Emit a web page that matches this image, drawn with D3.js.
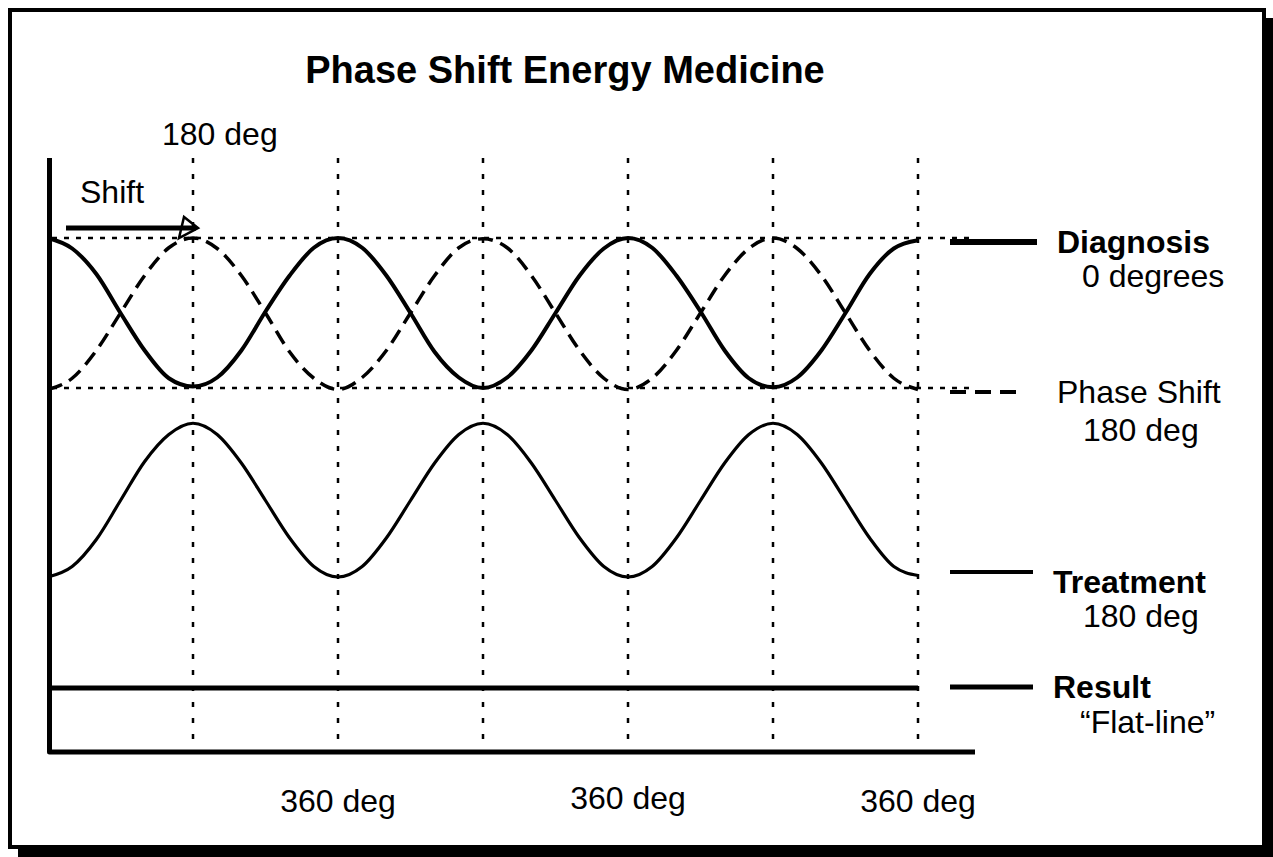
<!DOCTYPE html>
<html>
<head>
<meta charset="utf-8">
<script src="https://cdn.jsdelivr.net/npm/d3@7"></script>
<style>
  body { margin: 0; background: #fff; }
  text { font-family: "Liberation Sans", Arial, sans-serif; fill: #000; }
</style>
</head>
<body>
<svg id="chart" width="1273" height="857"></svg>
<script>
// phase angle (deg) along the x axis, sampled every 30 deg
var degrees = [0,30,60,90,120,150,180,210,240,270,300,330,360,
  390,420,450,480,510,540,570,600,630,660,690,720,
  750,780,810,840,870,900,930,960,990,1020,1050,1080];

var diagnosis = [1.00,0.86,0.52,0.00,-0.50,-0.87,-0.98,-0.86,-0.50,0.02,0.50,0.87,1.00,
  0.87,0.50,0.00,-0.52,-0.86,-1.00,-0.86,-0.50,0.00,0.50,0.86,1.00,
  0.87,0.50,0.02,-0.50,-0.87,-0.99,-0.86,-0.50,0.00,0.52,0.86,0.97];

var phaseShift = [-1.02,-0.87,-0.50,0.00,0.50,0.87,1.00,0.86,0.50,0.00,-0.52,-0.87,-1.02,
  -0.86,-0.50,0.00,0.50,0.87,0.99,0.87,0.50,0.00,-0.50,-0.87,-1.02,
  -0.87,-0.50,0.00,0.50,0.86,1.00,0.86,0.50,0.00,-0.50,-0.87,-1.02];

var treatment = [-3.52,-3.38,-3.02,-2.50,-1.98,-1.62,-1.47,-1.62,-2.00,-2.50,-3.00,-3.38,-3.52,
  -3.38,-3.00,-2.50,-2.00,-1.62,-1.47,-1.62,-2.00,-2.50,-3.00,-3.38,-3.52,
  -3.38,-3.00,-2.50,-2.00,-1.62,-1.47,-1.62,-2.00,-2.50,-3.00,-3.38,-3.50];

var resultDeg = [0, 1080];
var result = [-5, -5];

var vGridDeg = [180, 360, 540, 720, 900, 1080];
var hGridVal = [1, -1];
var bottomLabelDeg = [360, 720, 1080];
var bottomLabels = ["360 deg", "360 deg", "360 deg"];

var legendNames = ["Diagnosis", "Phase Shift", "Treatment", "Result"];
var legendSubs = ["0 degrees", "180 deg", "180 deg", "\u201CFlat-line\u201D"];

var svg = d3.select("#chart");

// drop shadow + frame
svg.append("rect").attr("x", 18).attr("y", 18).attr("width", 1258).attr("height", 842)
  .style("fill", "#000");
svg.append("rect").attr("x", 10).attr("y", 10).attr("width", 1254).attr("height", 837)
  .style("fill", "#fff").style("stroke", "#000").style("stroke-width", 4);

var x = d3.scaleLinear().domain([0, 1080]).range([48, 918]);
var y = d3.scaleLinear().domain([-5, 1]).range([688, 238]);

var line = d3.line()
  .x(function(d){ return x(d[0]); })
  .y(function(d){ return y(d[1]); })
  .curve(d3.curveMonotoneX);

// grid
svg.selectAll("line.vgrid").data(vGridDeg).enter().append("line")
  .attr("class", "vgrid")
  .attr("x1", function(d){ return x(d); }).attr("x2", function(d){ return x(d); })
  .attr("y1", 158).attr("y2", 750)
  .style("stroke", "#000").style("stroke-width", 2.5).style("stroke-dasharray", "5,11");
svg.selectAll("line.hgrid").data(hGridVal).enter().append("line")
  .attr("class", "hgrid")
  .attr("x1", 52).attr("x2", 975)
  .attr("y1", function(d){ return y(d); }).attr("y2", function(d){ return y(d); })
  .style("stroke", "#000").style("stroke-width", 2.5).style("stroke-dasharray", "5,7");

// axes
svg.append("path").attr("d", "M49.5,158V752H975")
  .style("fill", "none").style("stroke", "#000").style("stroke-width", 5)
  .style("stroke-linejoin", "round");

// series
svg.append("path").datum(d3.zip(degrees, phaseShift)).attr("d", line)
  .style("fill", "none").style("stroke", "#000").style("stroke-width", 3.5)
  .style("stroke-dasharray", "15,8");
svg.append("path").datum(d3.zip(degrees, diagnosis)).attr("d", line)
  .style("fill", "none").style("stroke", "#000").style("stroke-width", 4)
  .style("stroke-linejoin", "round");
svg.append("path").datum(d3.zip(degrees, treatment)).attr("d", line)
  .style("fill", "none").style("stroke", "#000").style("stroke-width", 3.2)
  .style("stroke-linejoin", "round");
svg.append("path").datum(d3.zip(resultDeg, result)).attr("d", line)
  .style("fill", "none").style("stroke", "#000").style("stroke-width", 5);

// shift arrow
svg.append("line").attr("x1", 66).attr("x2", 196).attr("y1", 228).attr("y2", 228)
  .style("stroke", "#000").style("stroke-width", 5);
svg.append("path").attr("d", "M198,228L184,217L179,238Z")
  .style("fill", "none").style("stroke", "#000").style("stroke-width", 2.5);

// texts
svg.append("text").attr("x", 565).attr("y", 83).attr("text-anchor", "middle")
  .style("font-size", "38px").style("font-weight", "bold").text("Phase Shift Energy Medicine");
svg.append("text").attr("x", x(180) - 31).attr("y", 145)
  .style("font-size", "32px").text("180 deg");
svg.append("text").attr("x", 80).attr("y", 203)
  .style("font-size", "32px").text("Shift");
svg.selectAll("text.bottom").data(bottomLabels).enter().append("text")
  .attr("class", "bottom")
  .attr("x", function(d, i){ return x(bottomLabelDeg[i]); })
  .attr("y", function(d, i){ return i === 1 ? 809 : 812; })
  .attr("text-anchor", "middle")
  .style("font-size", "32px").text(function(d){ return d; });

// legend
var legLineY = [242, 392, 572, 687];
var legStroke = [6, 4, 4, 5];
var legX2 = [1037, 1022, 1033, 1033];
var nameX = [1057, 1057, 1053, 1053];
var nameY = [253, 403, 593, 698];
var subX = [1082, 1083, 1083, 1080];
var subY = [287, 441, 627, 733];
legendNames.forEach(function(name, i){
  var l = svg.append("line").attr("x1", 950).attr("x2", legX2[i])
    .attr("y1", legLineY[i]).attr("y2", legLineY[i])
    .style("stroke", "#000").style("stroke-width", legStroke[i]);
  if (i === 1) l.style("stroke-dasharray", "16,9");
  svg.append("text").attr("x", nameX[i]).attr("y", nameY[i])
    .style("font-size", "32px").style("font-weight", i === 1 ? "normal" : "bold")
    .text(name);
  svg.append("text").attr("x", subX[i]).attr("y", subY[i])
    .style("font-size", "32px").text(legendSubs[i]);
});
</script>
</body>
</html>
